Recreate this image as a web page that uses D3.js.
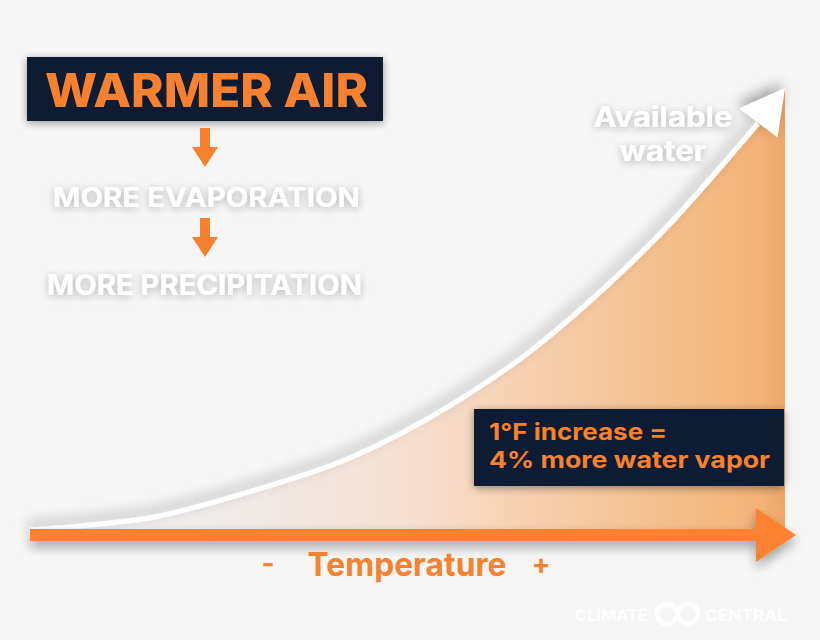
<!DOCTYPE html>
<html>
<head>
<meta charset="utf-8">
<script src="https://cdn.jsdelivr.net/npm/d3@7"></script>
<style>
  html, body { margin: 0; padding: 0; background: #f6f6f6; }
  svg { display: block; }
</style>
</head>
<body>
<svg id="chart" width="820" height="640"></svg>
<script>
// ---- data ----
const temperature = [0, 5.3, 16.3, 29.8, 42.4, 55.6, 66.2, 75.5, 84.4, 93.1, 96.4, 100];
const availableWater = [0, 0.7, 2.9, 9.0, 16.3, 28.1, 40.3, 53.8, 68.6, 85.3, 91.9, 100];
const headline = "WARMER AIR";
const steps = ["MORE EVAPORATION", "MORE PRECIPITATION"];
const factLines = ["1°F increase =", "4% more water vapor"];
const curveLabel = ["Available", "water"];
const axisLabel = "Temperature";
const axisEnds = ["-", "+"];
const credit = ["CLIMATE", "CENTRAL"];

const W = 820, H = 640;
const orange = "#f7812f", navy = "#111a33";
const font = "Inter, 'Open Sans', sans-serif";

const svg = d3.select("#chart");
const defs = svg.append("defs");

const x = d3.scaleLinear().domain([0, 100]).range([30, 785]);
const y = d3.scaleLinear().domain([0, 100]).range([530, 88]);

// gradient for area
const grad = defs.append("linearGradient").attr("id", "fillGrad")
  .attr("x1", "0%").attr("x2", "100%").attr("y1", "0%").attr("y2", "0%");
[[0, "#f4f4f4", 1], [0.25, "#efebea", 1], [0.5, "#f6e0d3", 1], [0.7, "#f6cca7", 1], [0.9, "#f4ba83", 1], [0.97, "#f2b176", 1], [1, "#eea866", 1]]
  .forEach(([o, c, a]) => grad.append("stop").attr("offset", o).attr("stop-color", c).attr("stop-opacity", a));

// shadows
function shadow(id, dx, dy, sd, op) {
  const f = defs.append("filter").attr("id", id)
    .attr("x", "-30%").attr("y", "-30%").attr("width", "160%").attr("height", "160%");
  f.append("feGaussianBlur").attr("in", "SourceAlpha").attr("stdDeviation", sd).attr("result", "b");
  f.append("feOffset").attr("in", "b").attr("dx", dx).attr("dy", dy).attr("result", "o");
  f.append("feComponentTransfer").attr("in", "o").attr("result", "s")
    .append("feFuncA").attr("type", "linear").attr("slope", op);
  const m = f.append("feMerge");
  m.append("feMergeNode").attr("in", "s");
  m.append("feMergeNode").attr("in", "SourceGraphic");
}
shadow("curveShadow", -3, -5, 7, 0.35);
shadow("barShadow", 0, 6, 6, 0.35);
shadow("boxShadow", 0, 2, 4, 0.4);
shadow("glow", 0, 2, 4, 0.28);

const pts = temperature.map((t, i) => [t, availableWater[i]]);

// area under curve
const area = d3.area().x(d => x(d[0])).y0(y(0)).y1(d => y(d[1])).curve(d3.curveMonotoneX);
svg.append("path").datum(pts).attr("d", area).attr("fill", "url(#fillGrad)");

// curve line + arrowhead
const linePts = pts.slice(0, pts.length - 1);
const line = d3.line().x(d => x(d[0])).y(d => y(d[1])).curve(d3.curveMonotoneX);
const curveG = svg.append("g").attr("filter", "url(#curveShadow)");
curveG.append("path").datum(linePts).attr("d", line)
  .attr("fill", "none").attr("stroke", "#ffffff").attr("stroke-width", 5);
{
  const a = pts[pts.length - 2], b = pts[pts.length - 1];
  const tx = x(b[0]), ty = y(b[1]);
  const ax = x(a[0]), ay = y(a[1]);
  const dx = tx - ax, dy = ty - ay, L = Math.hypot(dx, dy);
  const ux = dx / L, uy = dy / L;
  const len = 44, hw = 24;
  const bx = tx - ux * len, by = ty - uy * len;
  curveG.append("path")
    .attr("d", `M${tx},${ty}L${bx - uy * hw},${by + ux * hw}L${bx + uy * hw},${by - ux * hw}Z`)
    .attr("fill", "#ffffff");
}

// x axis arrow
const axisG = svg.append("g").attr("filter", "url(#barShadow)");
axisG.append("rect").attr("x", x(0)).attr("y", 529).attr("width", 758 - x(0)).attr("height", 12).attr("fill", "#fd8230");
axisG.append("path").attr("d", "M756,508L796,535L756,562Z").attr("fill", "#fd8230");

// axis labels
svg.append("text").attr("x", 407).attr("y", 576).attr("text-anchor", "middle")
  .attr("font-family", font).attr("font-weight", 700).attr("font-size", 32)
  .attr("textLength", 199).attr("lengthAdjust", "spacingAndGlyphs")
  .attr("fill", orange).text(axisLabel);
svg.append("text").attr("x", 268).attr("y", 573).attr("text-anchor", "middle")
  .attr("font-family", font).attr("font-weight", 700).attr("font-size", 28)
  .attr("fill", orange).text(axisEnds[0]);
svg.append("text").attr("x", 541).attr("y", 574).attr("text-anchor", "middle")
  .attr("font-family", font).attr("font-weight", 700).attr("font-size", 28)
  .attr("fill", orange).text(axisEnds[1]);

// headline box
svg.append("rect").attr("x", 27).attr("y", 57).attr("width", 356).attr("height", 64)
  .attr("fill", navy).attr("filter", "url(#boxShadow)");
svg.append("text").attr("x", 45).attr("y", 107)
  .attr("font-family", font).attr("font-weight", 800).attr("font-size", 47)
  .attr("textLength", 323).attr("lengthAdjust", "spacingAndGlyphs")
  .attr("fill", orange).text(headline);

// down arrows
function downArrow(cx, top) {
  svg.append("rect").attr("x", cx - 5).attr("y", top).attr("width", 10).attr("height", 20).attr("fill", orange);
  svg.append("path").attr("d", `M${cx - 13},${top + 19}L${cx + 13},${top + 19}L${cx},${top + 39}Z`).attr("fill", orange);
}
downArrow(205, 128);
downArrow(205, 218);

// steps
const stepPos = [{ x: 53, y: 207, len: 307, size: 27 }, { x: 47, y: 295, len: 315, size: 29 }];
steps.forEach((s, i) => {
  svg.append("text").attr("x", stepPos[i].x).attr("y", stepPos[i].y)
    .attr("font-family", font).attr("font-weight", 700).attr("font-size", stepPos[i].size)
    .attr("textLength", stepPos[i].len).attr("lengthAdjust", "spacingAndGlyphs")
    .attr("fill", "#ffffff").attr("filter", "url(#glow)").text(s);
});

// curve label
const clPos = [{ y: 127, len: 139 }, { y: 161, len: 87 }];
curveLabel.forEach((s, i) => {
  svg.append("text").attr("x", 663).attr("y", clPos[i].y).attr("text-anchor", "middle")
    .attr("font-family", font).attr("font-weight", 700).attr("font-size", 28)
    .attr("textLength", clPos[i].len).attr("lengthAdjust", "spacingAndGlyphs")
    .attr("fill", "#ffffff").attr("filter", "url(#glow)").text(s);
});

// fact box
svg.append("rect").attr("x", 474).attr("y", 409).attr("width", 310).attr("height", 77)
  .attr("fill", navy).attr("filter", "url(#boxShadow)");
const fPos = [{ y: 440, len: 178 }, { y: 468, len: 281 }];
factLines.forEach((s, i) => {
  svg.append("text").attr("x", 489).attr("y", fPos[i].y)
    .attr("font-family", font).attr("font-weight", 700).attr("font-size", 23)
    .attr("textLength", fPos[i].len).attr("lengthAdjust", "spacingAndGlyphs")
    .attr("fill", orange).text(s);
});

// credit logo
const logo = svg.append("g").attr("opacity", 0.95);
logo.append("text").attr("x", 575).attr("y", 621)
  .attr("font-family", font).attr("font-weight", 700).attr("font-size", 16)
  .attr("textLength", 73).attr("lengthAdjust", "spacingAndGlyphs")
  .attr("fill", "#ffffff").text(credit[0]);
logo.append("circle").attr("cx", 667).attr("cy", 614).attr("r", 10).attr("fill", "none").attr("stroke", "#ffffff").attr("stroke-width", 5);
logo.append("circle").attr("cx", 688).attr("cy", 614).attr("r", 10).attr("fill", "none").attr("stroke", "#ffffff").attr("stroke-width", 5);
logo.append("text").attr("x", 705).attr("y", 621)
  .attr("font-family", font).attr("font-weight", 700).attr("font-size", 16)
  .attr("textLength", 82).attr("lengthAdjust", "spacingAndGlyphs")
  .attr("fill", "#ffffff").text(credit[1]);
</script>
</body>
</html>
